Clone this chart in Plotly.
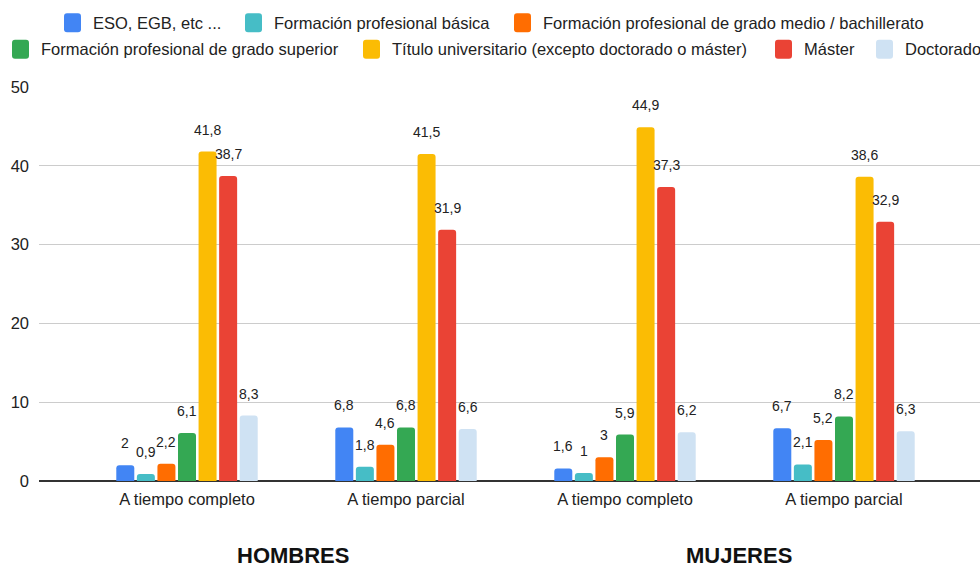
import plotly.graph_objects as go

# ---------------- data ----------------
categories = ["A tiempo completo", "A tiempo parcial", "A tiempo completo", "A tiempo parcial"]
group_labels = ["HOMBRES", "MUJERES"]
series_names = [
    "ESO, EGB, etc ...",
    "Formación profesional básica",
    "Formación profesional de grado medio / bachillerato",
    "Formación profesional de grado superior",
    "Título universitario (excepto doctorado o máster)",
    "Máster",
    "Doctorado",
]
eso = [2, 6.8, 1.6, 6.7]
fp_basica = [0.9, 1.8, 1, 2.1]
fp_medio = [2.2, 4.6, 3, 5.2]
fp_superior = [6.1, 6.8, 5.9, 8.2]
titulo_univ = [41.8, 41.5, 44.9, 38.6]
master = [38.7, 31.9, 37.3, 32.9]
doctorado = [8.3, 6.6, 6.2, 6.3]
series_values = [eso, fp_basica, fp_medio, fp_superior, titulo_univ, master, doctorado]
y_ticks = [0, 10, 20, 30, 40, 50]

# ---------------- style ----------------
colors = ["#4285F4", "#46BDC6", "#FF6D01", "#34A853", "#FBBC04", "#EA4335", "#CFE2F3"]
FONT = "Liberation Sans, Arial, sans-serif"
TXT = "#222222"
W, H = 980, 568
BARGAP = 0.3425
BARGROUPGAP = 0.125

x_pos = list(range(len(categories)))

fig = go.Figure()
for name, vals, col in zip(series_names, series_values, colors):
    fig.add_trace(go.Bar(
        x=x_pos, y=vals, name=name, marker=dict(color=col, line=dict(width=0)),
        showlegend=False, hoverinfo="skip",
    ))

def fmt(v):
    s = ("%g" % v)
    return s.replace(".", ",")

# data labels above each bar
n = len(series_values)
slot = (1 - BARGAP) / n
annotations = []
for j, vals in enumerate(series_values):
    for i, v in enumerate(vals):
        annotations.append(dict(
            x=i + (j - (n - 1) / 2) * slot, y=v, xref="x", yref="y",
            text=fmt(v), showarrow=False, yanchor="middle", xanchor="center",
            yshift=22, font=dict(family=FONT, size=14, color=TXT),
        ))

# custom legend (two rows, as in the reference)
def px(x):
    return x / W

def py(y):
    return 1 - y / H

legend_swatch_x = [64, 245, 514, 12, 363, 775, 876]
legend_row_y = [22.7, 22.7, 22.7, 49.3, 49.3, 49.3, 49.3]
shapes = []
sw_w, sw_h, r = 17, 19, 3
for name, col, sx, cy in zip(series_names, colors, legend_swatch_x, legend_row_y):
    x0, x1 = sx, sx + sw_w
    y0, y1 = cy - sw_h / 2, cy + sw_h / 2
    path = (
        f"M {px(x0 + r)},{py(y0)} L {px(x1 - r)},{py(y0)} "
        f"Q {px(x1)},{py(y0)} {px(x1)},{py(y0 + r)} "
        f"L {px(x1)},{py(y1 - r)} Q {px(x1)},{py(y1)} {px(x1 - r)},{py(y1)} "
        f"L {px(x0 + r)},{py(y1)} Q {px(x0)},{py(y1)} {px(x0)},{py(y1 - r)} "
        f"L {px(x0)},{py(y0 + r)} Q {px(x0)},{py(y0)} {px(x0 + r)},{py(y0)} Z"
    )
    shapes.append(dict(type="path", path=path, xref="paper", yref="paper",
                       fillcolor=col, line=dict(width=0)))
    annotations.append(dict(
        x=px(sx + 27), y=py(cy), xref="paper", yref="paper", text=name,
        showarrow=False, xanchor="left", yanchor="middle",
        font=dict(family=FONT, size=16.5, color=TXT),
    ))

# group labels under the axis
for lbl, gx in zip(group_labels, [292.5, 739]):
    annotations.append(dict(
        x=px(gx), y=py(555), xref="paper", yref="paper", text="<b>%s</b>" % lbl,
        showarrow=False, xanchor="center", yanchor="middle",
        font=dict(family=FONT, size=22, color="#111111"),
    ))

fig.update_layout(
    width=W, height=H, autosize=False,
    margin=dict(l=0, r=0, t=0, b=0, pad=0, autoexpand=False),
    paper_bgcolor="white", plot_bgcolor="white",
    barmode="group", bargap=BARGAP, bargroupgap=BARGROUPGAP, barcornerradius=3,
    font=dict(family=FONT, size=16.5, color=TXT),
    xaxis=dict(
        domain=[39 / W, 1], range=[(39 - 187) / 219, (980 - 187) / 219],
        tickmode="array", tickvals=x_pos, ticktext=categories,
        showgrid=False, showline=False, zeroline=False, ticks="",
        automargin=False,
        ticklabelstandoff=6, tickfont=dict(family=FONT, size=16.5, color=TXT),
    ),
    yaxis=dict(
        domain=[1 - 481 / H, 1 - 87 / H], range=[0, 50],
        tickmode="array", tickvals=y_ticks,
        showgrid=True, gridcolor="#cccccc", gridwidth=1,
        zeroline=True, zerolinecolor="#333333", zerolinewidth=1.5,
        showline=False, ticks="", ticklabelstandoff=9, automargin=False,
        tickfont=dict(family=FONT, size=16.5, color=TXT),
    ),
    annotations=annotations,
    shapes=shapes,
    showlegend=False,
)

fig.write_html(
    "out.html",
    config={"responsive": False, "displayModeBar": False},
    post_script="document.body.style.margin='0';document.body.style.padding='0';document.body.style.overflow='hidden';",
)
